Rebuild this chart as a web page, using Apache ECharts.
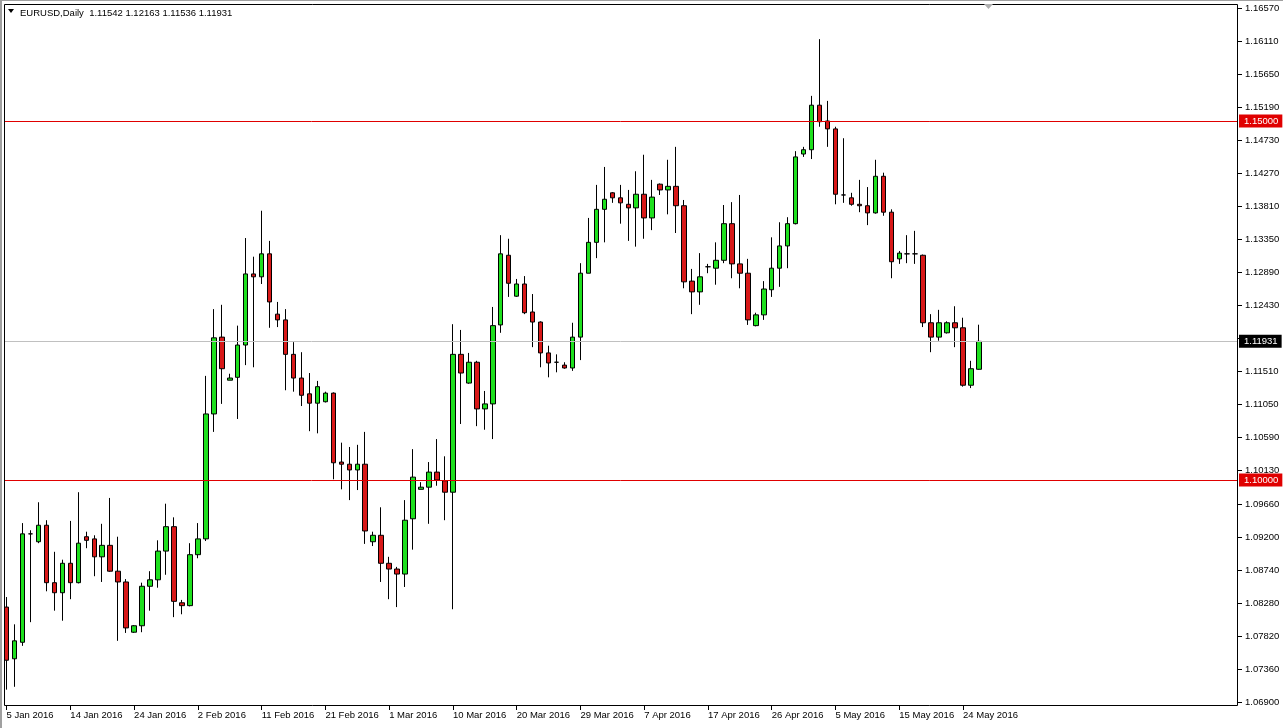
<!DOCTYPE html>
<html>
<head>
<meta charset="utf-8">
<script src="https://cdn.jsdelivr.net/npm/echarts@6/dist/echarts.min.js"></script>
<style>
html,body{margin:0;padding:0;background:#fff;}
#chart{width:1283px;height:728px;}
</style>
</head>
<body>
<div id="chart"></div>
<script>
// ---- data (EURUSD daily) ----
const startDate = '2016-01-05';
const barCount = 123;
const padBars = 32;
const monthNames = ['Jan','Feb','Mar','Apr','May','Jun','Jul','Aug','Sep','Oct','Nov','Dec'];

const opens = [1.0823,1.0751,1.0774,1.0925,1.0914,1.0937,1.0857,1.0843,1.0884,1.0857,
1.0921,1.0918,1.0893,1.0909,1.0873,1.0858,1.0788,1.0797,1.0852,1.0861,
1.0901,1.0935,1.0829,1.0825,1.0896,1.0918,1.1092,1.1199,1.1139,1.1143,
1.1188,1.1287,1.1283,1.1315,1.1231,1.1223,1.1175,1.1142,1.1120,1.1107,
1.1109,1.1121,1.1025,1.1022,1.1014,1.1022,1.0914,1.0923,1.0884,1.0876,
1.0869,1.0946,1.0987,1.0990,1.1011,1.0999,1.0983,1.1175,1.1135,1.1164,
1.1099,1.1106,1.1216,1.1313,1.1256,1.1273,1.1234,1.1220,1.1177,1.1164,
1.1160,1.1156,1.1199,1.1288,1.1331,1.1377,1.1400,1.1393,1.1384,1.1379,
1.1398,1.1365,1.1412,1.1404,1.1409,1.1382,1.1277,1.1262,1.1297,1.1295,
1.1306,1.1357,1.1301,1.1288,1.1215,1.1230,1.1265,1.1295,1.1326,1.1357,
1.1454,1.1460,1.1522,1.1500,1.1489,1.1397,1.1393,1.1384,1.1382,1.1372,
1.1423,1.1373,1.1308,1.1315,1.1315,1.1313,1.1219,1.1199,1.1205,1.1219,
1.1212,1.1132,1.11542];

const closes = [1.0749,1.0776,1.0925,1.0925,1.0937,1.0857,1.0843,1.0884,1.0857,1.0912,
1.0916,1.0893,1.0909,1.0873,1.0858,1.0794,1.0797,1.0852,1.0861,1.0901,
1.0935,1.0831,1.0825,1.0896,1.0918,1.1092,1.1198,1.1155,1.1142,1.1188,
1.1287,1.1283,1.1315,1.1248,1.1223,1.1175,1.1142,1.1118,1.1107,1.1130,
1.1121,1.1024,1.1022,1.1014,1.1022,1.0929,1.0923,1.0884,1.0876,1.0869,
1.0944,1.1004,1.0990,1.1011,1.1000,1.0983,1.1175,1.1149,1.1164,1.1099,
1.1106,1.1215,1.1315,1.1274,1.1273,1.1233,1.1220,1.1177,1.1163,1.1164,
1.1156,1.1199,1.1288,1.1331,1.1377,1.1391,1.1393,1.1386,1.1379,1.1398,
1.1365,1.1394,1.1404,1.1409,1.1382,1.1276,1.1262,1.1283,1.1297,1.1306,
1.1357,1.1301,1.1288,1.1223,1.1230,1.1266,1.1295,1.1326,1.1357,1.1450,
1.1460,1.1522,1.1499,1.1489,1.1398,1.1397,1.1384,1.1382,1.1372,1.1423,
1.1373,1.1304,1.1316,1.1315,1.1315,1.1219,1.1199,1.1219,1.1219,1.1212,
1.1132,1.1155,1.11931];

const lows = [1.0708,1.0712,1.0769,1.0802,1.0912,1.0845,1.0818,1.0804,1.0834,1.0856,
1.0905,1.0866,1.0858,1.0872,1.0776,1.0787,1.0787,1.0788,1.0818,1.0850,
1.0868,1.0809,1.0813,1.0824,1.0891,1.0915,1.1067,1.1106,1.1139,1.1085,
1.1160,1.1157,1.1273,1.1212,1.1213,1.1125,1.1123,1.1103,1.1068,1.1065,
1.1108,1.1001,1.0987,1.0972,1.0986,1.0911,1.0908,1.0858,1.0834,1.0823,
1.0851,1.0903,1.0987,1.0939,1.0992,1.0944,1.0820,1.1078,1.1134,1.1075,
1.1070,1.1057,1.1205,1.1255,1.1255,1.1231,1.1185,1.1157,1.1143,1.1150,
1.1155,1.1152,1.1167,1.1288,1.1309,1.1331,1.1386,1.1357,1.1333,1.1325,
1.1336,1.1348,1.1397,1.1370,1.1344,1.1267,1.1231,1.1244,1.1288,1.1272,
1.1302,1.1281,1.1267,1.1216,1.1214,1.1223,1.1255,1.1269,1.1295,1.1356,
1.1450,1.1447,1.1492,1.1464,1.1384,1.1386,1.1382,1.1373,1.1355,1.1371,
1.1368,1.1281,1.1301,1.1302,1.1301,1.1213,1.1178,1.1194,1.1204,1.1185,
1.1130,1.1128,1.11536];

const highs = [1.0837,1.0799,1.0940,1.0930,1.0969,1.0944,1.0900,1.0889,1.0943,1.0983,
1.0928,1.0923,1.0939,1.0975,1.0921,1.0862,1.0798,1.0857,1.0873,1.0916,
1.0967,1.0948,1.0833,1.0912,1.0940,1.1145,1.1238,1.1244,1.1148,1.1215,
1.1337,1.1311,1.1375,1.1333,1.1248,1.1238,1.1192,1.1178,1.1149,1.1138,
1.1123,1.1122,1.1052,1.1046,1.1049,1.1067,1.0928,1.0962,1.0893,1.0879,
1.0972,1.1043,1.0997,1.1025,1.1057,1.1033,1.1217,1.1209,1.1177,1.1166,
1.1124,1.1241,1.1341,1.1336,1.1280,1.1284,1.1259,1.1221,1.1187,1.1175,
1.1164,1.1219,1.1302,1.1365,1.1411,1.1436,1.1401,1.1411,1.1404,1.1430,
1.1453,1.1418,1.1413,1.1446,1.1464,1.1390,1.1294,1.1316,1.1301,1.1331,
1.1383,1.1387,1.1397,1.1308,1.1233,1.1277,1.1338,1.1359,1.1366,1.1458,
1.1464,1.1535,1.1614,1.1528,1.1492,1.1476,1.1400,1.1418,1.1408,1.1446,
1.1428,1.1377,1.1319,1.1341,1.1347,1.1314,1.1231,1.1237,1.1221,1.1242,
1.1226,1.1166,1.12163];

const priceTicks = [1.06900,1.07360,1.07820,1.08280,1.08740,1.09200,1.09660,1.10130,
1.10590,1.11050,1.11510,1.11970,1.12430,1.12890,1.13350,1.13810,1.14270,1.14730,
1.15190,1.15650,1.16110,1.16570];

const levelLines = [1.15000, 1.10000];
const bidPrice = 1.11931;
const symbolTitle = 'EURUSD,Daily';

// ---- categories: daily bars (Sunday included, Saturday skipped) ----
const categories = [];
{
  const d = new Date(startDate + 'T00:00:00Z');
  while (categories.length < barCount) {
    if (d.getUTCDay() !== 6) {
      categories.push(d.getUTCDate() + ' ' + monthNames[d.getUTCMonth()] + ' ' + d.getUTCFullYear());
    }
    d.setUTCDate(d.getUTCDate() + 1);
  }
  for (let i = 0; i < padBars; i++) categories.push('');
}

const candleData = opens.map((o, i) => [o, closes[i], lows[i], highs[i]]);

const FONT = "'Liberation Sans',Arial,sans-serif";
const FS = 9.5;
const last = barCount - 1;
const titleText = symbolTitle + '  ' + [opens[last], highs[last], lows[last], closes[last]].map(v => v.toFixed(5)).join(' ');

const chart = echarts.init(document.getElementById('chart'), null, {renderer: 'canvas'});

const showTick = (idx, val) => idx % 8 === 0 && val !== '';

chart.setOption({
  animation: false,
  backgroundColor: '#fff',
  grid: {left: 2.6, right: 45, top: 4, bottom: 22, containLabel: false, outerBoundsMode: 'none'},
  xAxis: {
    type: 'category',
    data: categories,
    boundaryGap: true,
    axisLine: {show: false},
    axisTick: {show: true, interval: showTick, alignWithLabel: true, length: 4, lineStyle: {color: '#000'}},
    axisLabel: {interval: showTick, align: 'left', margin: 4, fontSize: FS, fontFamily: FONT, color: '#000', hideOverlap: false},
    splitLine: {show: false}
  },
  yAxis: {
    type: 'value',
    position: 'right',
    min: 1.068524,
    max: 1.166295,
    scale: true,
    axisLine: {show: false},
    splitLine: {show: false},
    axisTick: {show: true, customValues: priceTicks, length: 4, lineStyle: {color: '#000'}},
    axisLabel: {customValues: priceTicks, margin: 7, fontSize: FS, fontFamily: FONT, color: '#000',
      formatter: v => Number(v).toFixed(5)}
  },
  series: [{
    type: 'candlestick',
    data: candleData,
    barWidth: 5,
    itemStyle: {
      color: '#1ee01e',
      color0: '#d81818',
      borderColor: '#000',
      borderColor0: '#000',
      borderColorDoji: '#000',
      borderWidth: 1
    },
    markLine: {
      silent: true,
      symbol: ['none', 'none'],
      precision: 5,
      animation: false,
      data: [
        {yAxis: levelLines[0], lineStyle: {color: '#e00000', width: 1, type: 'solid'},
          label: {backgroundColor: '#e00000'}},
        {yAxis: levelLines[1], lineStyle: {color: '#e00000', width: 1, type: 'solid'},
          label: {backgroundColor: '#e00000'}},
        {yAxis: bidPrice, lineStyle: {color: '#c0c0c0', width: 1, type: 'solid'},
          label: {backgroundColor: '#000'}}
      ],
      label: {
        show: true,
        position: 'end',
        distance: 1,
        color: '#fff',
        fontSize: FS,
        fontFamily: FONT,
        padding: [2, 4, 1, 5],
        formatter: p => Number(p.value).toFixed(5)
      }
    }
  }],
  graphic: [
    {type: 'rect', z: 100, shape: {x: 0, y: 0, width: 4, height: 728}, style: {fill: '#fff'}},
    {type: 'rect', z: 101, shape: {x: 0, y: 0, width: 2, height: 728}, style: {fill: '#a0a0a0'}},
    {type: 'rect', z: 101, shape: {x: 0, y: 0, width: 1283, height: 1}, style: {fill: '#a0a0a0'}},
    {type: 'rect', z: 102, shape: {x: 4.5, y: 4.5, width: 1233, height: 701}, style: {fill: 'none', stroke: '#000', lineWidth: 1}},
    {type: 'polygon', z: 103, shape: {points: [[8, 9], [14, 9], [11, 13]]}, style: {fill: '#000'}},
    {type: 'text', z: 103, x: 20, y: 8, style: {text: titleText, font: FS + 'px ' + FONT, fill: '#000'}},
    {type: 'polygon', z: 103, shape: {points: [[984, 4], [993, 4], [988.5, 9]]}, style: {fill: '#b0b0b0'}}
  ]
});
</script>
</body>
</html>
